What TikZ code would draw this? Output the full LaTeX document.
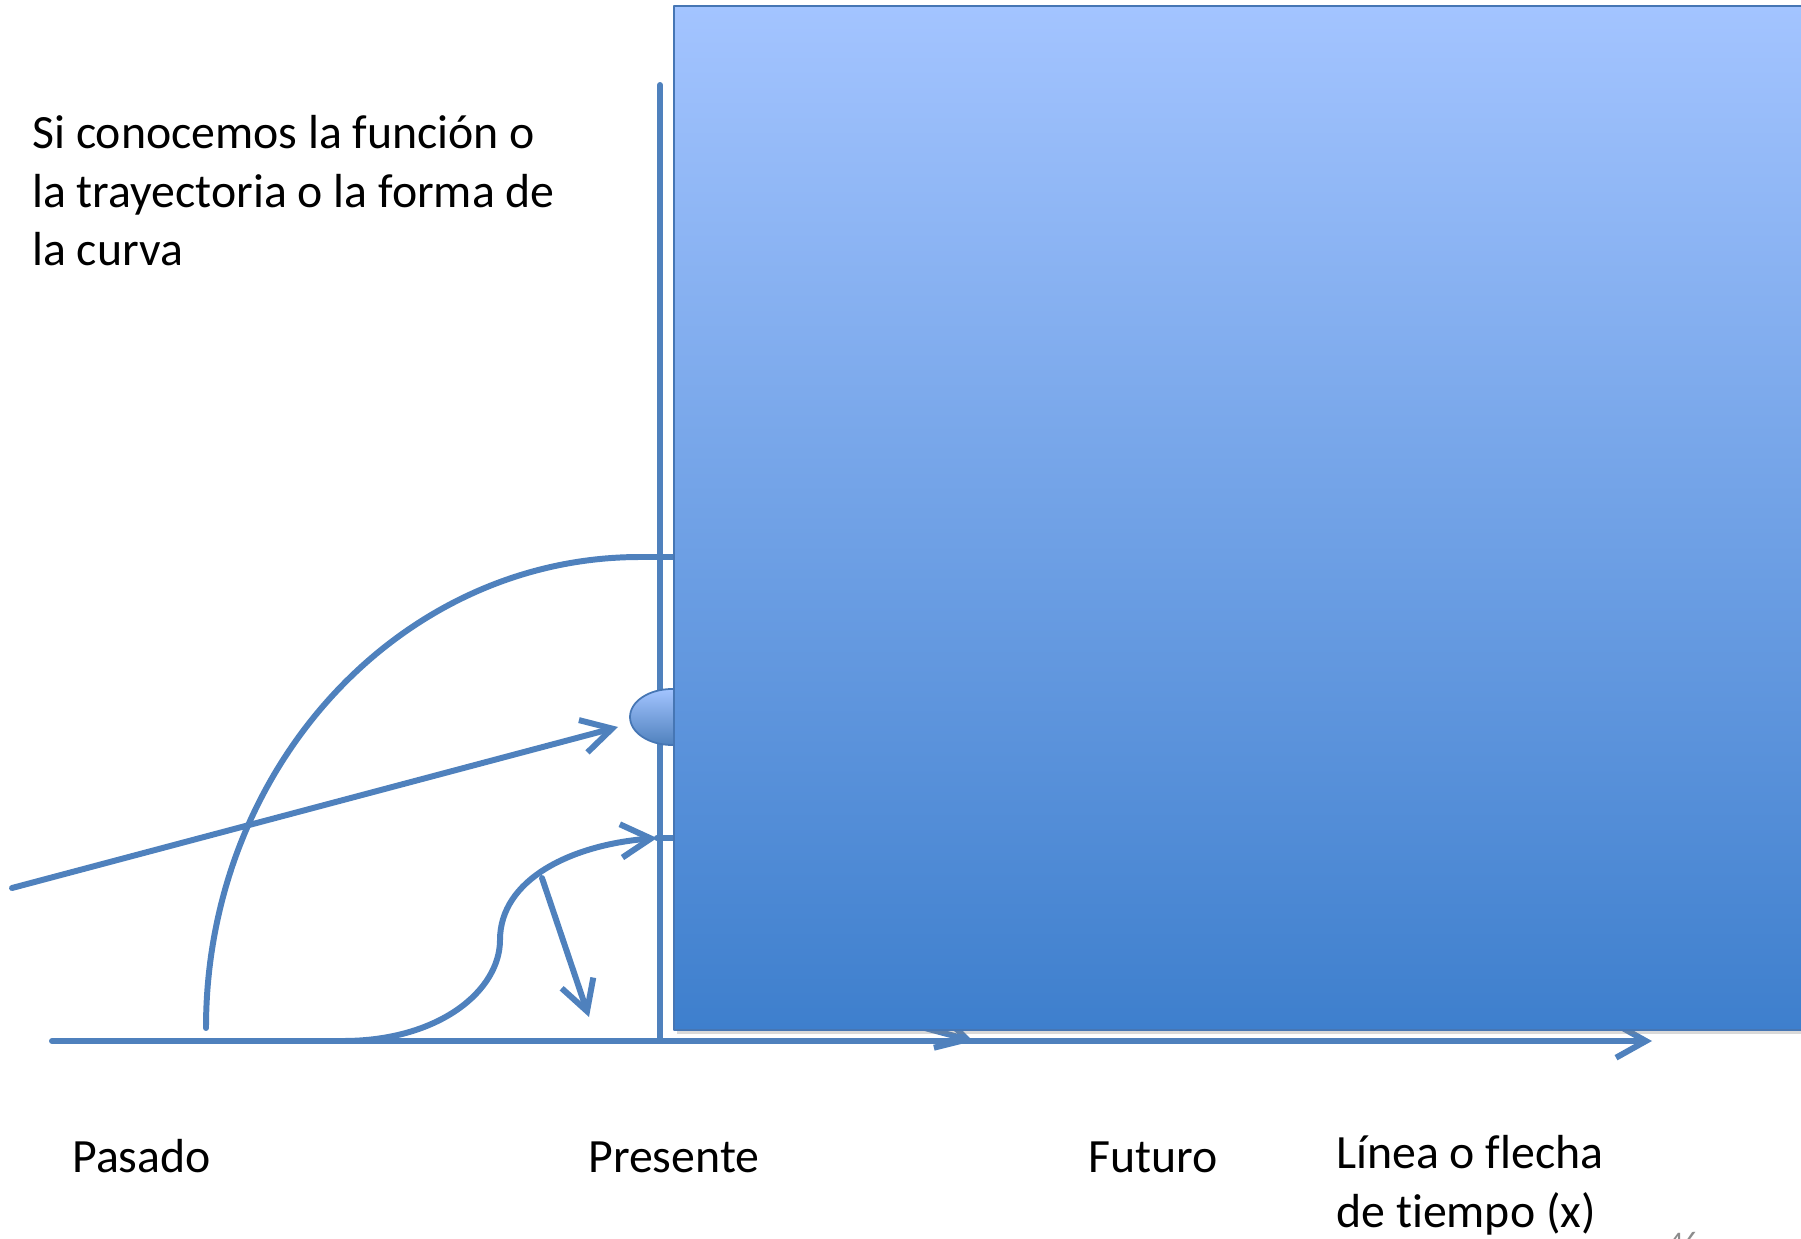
\documentclass[tikz,border=0pt]{standalone}
\usepackage{fontspec}
\setmainfont{Carlito}[Ligatures=NoCommon]
\usepackage{tikz}
\usetikzlibrary{calc}
\usetikzlibrary{arrows.meta}
\usetikzlibrary{shadows}
\definecolor{lineblue}{RGB}{79,129,189}
\definecolor{boxtop}{RGB}{163,196,255}
\definecolor{boxbot}{RGB}{62,127,205}
\definecolor{boxedge}{RGB}{70,118,180}
\definecolor{numgray}{RGB}{140,140,140}
\tikzstyle{every node}=[font=\fontsize{27.2}{33.4}\selectfont,inner sep=0pt]
\tikzstyle{tline}=[line width=3.4pt,color=lineblue]

\begin{document}
\begin{tikzpicture}[line cap=round,line join=round,>={Straight Barb[length=17pt,width=19pt]},x=0.02cm,y=-0.02cm]
\useasboundingbox (0,0) rectangle (1801,1239);

% axes
\coordinate (O) at (660,1041);
\coordinate (ytop) at (660,85);
\coordinate (xleft) at (52,1041);
\coordinate (xtip) at (1652,1041);
\draw [tline] (O) -- (ytop);
\draw [->,tline] (xleft) -- (xtip);
\draw [->,tline] (840,1005) -- (973,1041);

% trajectories
\coordinate (arcfoot) at (206,1028);
\coordinate (arctop) at (640,557);
\draw [tline] (arcfoot) .. controls (206,768) and (400,557) .. (arctop) -- (720,557);
\coordinate (rayfoot) at (12,888);
\coordinate (raytip) at (618,727);
\draw [->,tline] (rayfoot) -- (raytip);
\coordinate (sfoot) at (343,1041);
\coordinate (sneck) at (500,940);
\coordinate (stip) at (657,838);
\draw [->,tline] (sfoot) .. controls (440,1041) and (500,990) .. (sneck) .. controls (500,880) and (570,845) .. (stip);
\draw [tline] (stip) -- (720,838);
\coordinate (drop) at (542,878);
\coordinate (droptip) at (589,1017);
\draw [->,tline] (drop) -- (droptip);

% point on the axis
\draw [boxedge,line width=1pt,top color=boxtop,bottom color=lineblue] (672,717) ellipse [x radius=42,y radius=28];

% the box
\draw [boxedge,line width=1.3pt,top color=boxtop,bottom color=boxbot,drop shadow={shadow xshift=1.5pt,shadow yshift=-2.5pt,opacity=0.3}] (674,6) rectangle (1840,1030);

% texts
\node [anchor=base west,align=left] (intro) at (32,266) {Si conocemos la función o\\la trayectoria o la forma de\\la curva};
\node [anchor=base west] (pasado) at (72,1172) {Pasado};
\node [anchor=base west] (presente) at (588,1172) {Presente};
\node [anchor=base west] (futuro) at (1088,1172) {Futuro};
\node [anchor=base west,align=left] (flecha) at (1336,1227) {Línea o flecha\\de tiempo (x)};
\node [anchor=base west,color=numgray,font=\fontsize{17}{20}\selectfont] (pagenum) at (1668,1252) {46};
\end{tikzpicture}
\end{document}
